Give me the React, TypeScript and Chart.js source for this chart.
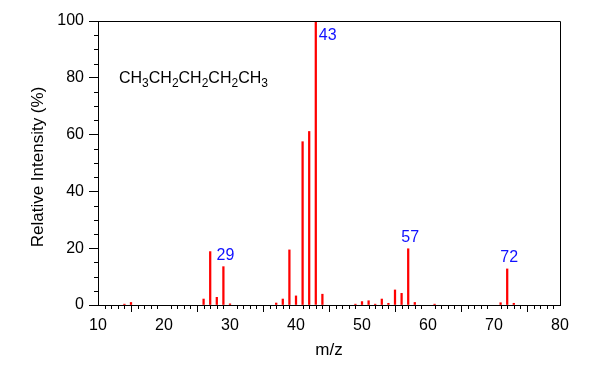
import React, { useEffect, useRef } from 'react';
import { Chart, registerables } from 'chart.js';

Chart.register(...registerables);

// m/z values and relative intensities (%)
const mzValues = [14, 15, 26, 27, 28, 29, 30, 37, 38, 39, 40, 41, 42, 43, 44, 49, 50, 51, 52, 53, 54, 55, 56, 57, 58, 61, 71, 72, 73];
const intensities = [0.3, 0.9, 2.1, 18.8, 2.7, 13.5, 0.4, 0.7, 2.1, 19.4, 3.2, 57.5, 61.1, 100, 3.8, 0.3, 1.2, 1.5, 0.3, 2.1, 0.6, 5.3, 4.1, 19.8, 0.9, 0.3, 0.8, 12.7, 0.6];
const labeledPeaks = [29, 43, 57, 72];
const xTickValues = [10, 20, 30, 40, 50, 60, 70, 80];
const yTickValues = [0, 20, 40, 60, 80, 100];
const xAxisTitle = 'm/z';
const yAxisTitle = 'Relative Intensity (%)';
// formula pieces: [text, isSubscript]
const formulaParts: [string, boolean][] = [
  ['CH', false], ['3', true], ['CH', false], ['2', true], ['CH', false], ['2', true],
  ['CH', false], ['2', true], ['CH', false], ['3', true],
];

const FONT = '"Liberation Sans", Arial, Helvetica, sans-serif';

const decorPlugin = {
  id: 'decor',
  afterDraw(chart: any) {
    const ctx = chart.ctx as CanvasRenderingContext2D;
    const area = chart.chartArea;
    const xs = chart.scales.x;
    const ys = chart.scales.y;
    ctx.save();
    // frame top/right
    ctx.strokeStyle = '#000';
    ctx.lineWidth = 1;
    ctx.beginPath();
    ctx.moveTo(Math.round(area.left) + 0.5, Math.round(area.top) + 0.5);
    ctx.lineTo(Math.round(area.right) + 0.5, Math.round(area.top) + 0.5);
    ctx.lineTo(Math.round(area.right) + 0.5, Math.round(area.bottom) + 0.5);
    ctx.stroke();
    // minor ticks x
    ctx.beginPath();
    for (let v = xs.min; v <= xs.max; v += 1) {
      if (v % 10 === 0) continue;
      const px = Math.round(xs.getPixelForValue(v)) + 0.5;
      ctx.moveTo(px, area.bottom);
      ctx.lineTo(px, area.bottom + 4);
    }
    // minor ticks y
    for (let v = ys.min; v <= ys.max; v += 5) {
      if (v % 20 === 0) continue;
      const py = Math.round(ys.getPixelForValue(v)) + 0.5;
      ctx.moveTo(area.left - 4, py);
      ctx.lineTo(area.left, py);
    }
    ctx.stroke();

    // y-axis title
    ctx.save();
    ctx.fillStyle = '#000';
    ctx.font = `17px ${FONT}`;
    ctx.textAlign = 'center';
    ctx.textBaseline = 'middle';
    ctx.translate(area.left - 60, (area.top + area.bottom) / 2 + 4);
    ctx.rotate(-Math.PI / 2);
    ctx.fillText(yAxisTitle, 0, 0);
    ctx.restore();

    // peak labels
    const maxVal = Math.max(...intensities);
    ctx.fillStyle = '#1010ff';
    ctx.font = `16px ${FONT}`;
    ctx.textBaseline = 'middle';
    labeledPeaks.forEach((mz) => {
      const idx = mzValues.indexOf(mz);
      if (idx < 0) return;
      const val = intensities[idx];
      const px = xs.getPixelForValue(mz);
      const py = ys.getPixelForValue(val);
      if (val >= maxVal) {
        ctx.textAlign = 'left';
        ctx.fillText(String(mz), px + 3, py + 15);
      } else {
        ctx.textAlign = 'center';
        ctx.fillText(String(mz), px + 2, py - 11);
      }
    });

    // formula text
    ctx.fillStyle = '#000';
    ctx.textAlign = 'left';
    ctx.textBaseline = 'alphabetic';
    let x = area.left + 21;
    const base = area.top + 62;
    formulaParts.forEach(([t, sub]) => {
      ctx.font = sub ? `12px ${FONT}` : `16px ${FONT}`;
      ctx.fillText(t, x, sub ? base + 4 : base);
      x += ctx.measureText(t).width;
    });
    ctx.restore();
  },
};

export default function App() {
  const ref = useRef<HTMLCanvasElement>(null);
  useEffect(() => {
    if (!ref.current) return;
    const chart = new Chart(ref.current, {
      type: 'bar',
      data: {
        datasets: [
          {
            data: mzValues.map((m, i) => ({ x: m, y: intensities[i] })),
            backgroundColor: '#ff0000',
            borderWidth: 0,
            barThickness: 1.6,
            grouped: false,
          } as any,
        ],
      },
      options: {
        responsive: false,
        animation: false,
        events: [],
        layout: { padding: { top: 21, right: 40, left: 0, bottom: 0 } },
        plugins: { legend: { display: false }, tooltip: { enabled: false } },
        scales: {
          x: {
            type: 'linear',
            min: 10,
            max: 80,
            offset: false,
            afterBuildTicks: (s: any) => {
              s.ticks = xTickValues.map((v) => ({ value: v }));
            },
            afterFit: (s: any) => {
              s.height = 65;
            },
            grid: { drawOnChartArea: false, tickLength: 7, color: '#000', tickColor: '#000' },
            border: { color: '#000', width: 1 },
            ticks: { color: '#000', font: { size: 16, family: FONT }, padding: 4, maxRotation: 0, autoSkip: false },
            title: { display: true, text: xAxisTitle, color: '#000', font: { size: 17, family: FONT }, padding: { bottom: 9, top: 0 } },
          },
          y: {
            min: 0,
            max: 100,
            afterBuildTicks: (s: any) => {
              s.ticks = yTickValues.map((v) => ({ value: v }));
            },
            afterFit: (s: any) => {
              s.width = 98;
            },
            grid: { drawOnChartArea: false, tickLength: 9, color: '#000', tickColor: '#000' },
            border: { color: '#000', width: 1 },
            ticks: { color: '#000', font: { size: 16, family: FONT }, padding: 5, autoSkip: false },
            title: { display: false },
          },
        },
      } as any,
      plugins: [decorPlugin],
    });
    return () => chart.destroy();
  }, []);
  return (
    <div style={{ position: 'absolute', left: 0, top: 0, width: 600, height: 370, background: '#fff' }}>
      <canvas ref={ref} width={600} height={370} style={{ width: 600, height: 370 }} />
    </div>
  );
}
